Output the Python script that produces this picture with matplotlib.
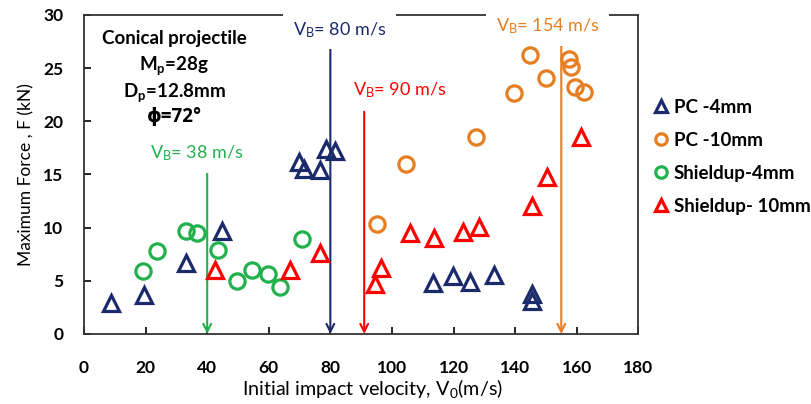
import matplotlib.pyplot as plt

plt.rcParams['font.family'] = ['Lato', 'DejaVu Sans']
plt.rcParams['mathtext.default'] = 'regular'

# PC - 4 mm (navy triangles)
pc4_v = [8.9, 19.5, 33.1, 44.8, 69.9, 71.6, 76.7, 78.6, 81.6, 113.3, 119.9, 125.5, 133.1, 145.4, 145.4]
pc4_f = [2.9, 3.7, 6.7, 9.7, 16.2, 15.5, 15.4, 17.4, 17.2, 4.8, 5.45, 4.9, 5.5, 3.8, 3.1]

# PC - 10 mm (orange circles)
pc10_v = [95.0, 104.7, 127.2, 139.6, 144.8, 149.9, 157.5, 158.3, 159.3, 162.4]
pc10_f = [10.3, 16.0, 18.5, 22.7, 26.2, 24.1, 25.9, 25.1, 23.2, 22.8]

# Shieldup - 4 mm (green circles)
sh4_v = [19.3, 23.6, 33.1, 36.6, 43.6, 49.6, 54.5, 59.9, 63.7, 70.8]
sh4_f = [5.9, 7.8, 9.7, 9.5, 7.9, 5.0, 6.05, 5.6, 4.45, 8.9]

# Shieldup - 10 mm (red triangles)
sh10_v = [42.5, 66.8, 76.5, 94.4, 96.3, 106.0, 113.6, 123.1, 128.2, 145.4, 150.5, 161.3]
sh10_f = [6.0, 6.0, 7.65, 4.7, 6.2, 9.5, 9.0, 9.6, 10.1, 12.0, 14.8, 18.5]

# ballistic limits
limits_v = [40, 80, 91, 155]
limits_top = [15.4, 27.2, 20.9, 27.5]
limits_label_x = [36.7, 82.9, 102.5, 150.6]
limits_label_y = [17.0, 28.6, 22.95, 28.9]
limits_text = ['38', '80', '90', '154']

navy = '#1b2a6b'
orange = '#e67e22'
green = '#22b14c'
red = '#ff0000'
limits_color = [green, navy, red, orange]

fig = plt.figure(figsize=(8.11, 4.04), dpi=100)
ax = fig.add_axes([0.1036, 0.1733, 0.6834, 0.7897])

ax.plot(pc4_v, pc4_f, linestyle='none', marker='^', markersize=11, mfc='none',
        mec=navy, mew=2.3, label='PC -4mm', zorder=4)
ax.plot(pc10_v, pc10_f, linestyle='none', marker='o', markersize=11, mfc='none',
        mec=orange, mew=2.3, label='PC -10mm', zorder=4)
ax.plot(sh4_v, sh4_f, linestyle='none', marker='o', markersize=11, mfc='none',
        mec=green, mew=2.3, label='Shieldup-4mm', zorder=4)
ax.plot(sh10_v, sh10_f, linestyle='none', marker='^', markersize=11, mfc='none',
        mec=red, mew=2.3, label='Shieldup- 10mm', zorder=4)

for v, top, lx, ly, t, c in zip(limits_v, limits_top, limits_label_x, limits_label_y,
                                limits_text, limits_color):
    ax.annotate('', xy=(v, 0), xytext=(v, top),
                arrowprops=dict(arrowstyle='->', color=c, lw=1.5, mutation_scale=14,
                                shrinkA=0, shrinkB=0), zorder=3)
    ax.text(lx, ly, 'V$_B$= ' + t + ' m/s', color=c, fontsize=13, ha='center', va='center',
            bbox=dict(facecolor='white', edgecolor='none', pad=7), zorder=5)

ax.text(29.3, 27.8, 'Conical projectile', fontsize=13.5, fontweight='bold', ha='center', va='center')
ax.text(29.3, 25.2, 'M$_p$=28g', fontsize=13.5, fontweight='bold', ha='center', va='center')
ax.text(29.3, 22.7, 'D$_p$=12.8mm', fontsize=13.5, fontweight='bold', ha='center', va='center')
ax.text(29.3, 20.4, 'ϕ=72°', fontsize=13.5, fontweight='bold', ha='center', va='center',
        family=['Open Sans', 'DejaVu Sans'])

ax.set_xlim(0, 180)
ax.set_ylim(0, 30)
ax.set_xticks(range(0, 181, 20))
ax.set_yticks(range(0, 31, 5))
ax.tick_params(direction='in', length=5, width=1.2, labelsize=12.5)
ax.tick_params(axis='x', pad=19)
ax.tick_params(axis='y', pad=15)
for lbl in ax.get_xticklabels() + ax.get_yticklabels():
    lbl.set_fontweight('bold')
for s in ax.spines.values():
    s.set_linewidth(1.3)
    s.set_color('#333333')

ax.set_xlabel('Initial impact velocity, V$_0$(m/s)', fontsize=14.2, labelpad=1)
ax.xaxis.set_label_coords(0.52, -0.135)
ax.set_ylabel('Maximum Force , F (kN)', fontsize=12.5, labelpad=6)

leg = ax.legend(loc='upper left', bbox_to_anchor=(0.99, 0.79), frameon=False,
                handletextpad=0.1, handlelength=1.2, labelspacing=0.85, markerscale=0.75,
                prop={'weight': 'bold', 'size': 13.5})

fig.savefig('out.png', dpi=100)
